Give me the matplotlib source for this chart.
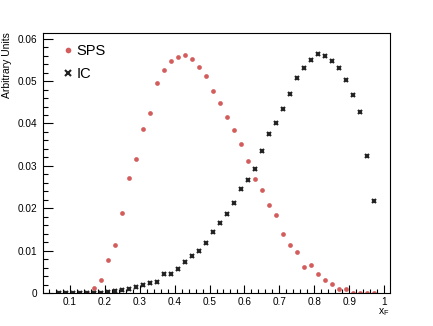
import numpy as np
from matplotlib import pyplot as plt
from matplotlib.ticker import MultipleLocator, FuncFormatter

plt.rcParams['font.family'] = ['Liberation Sans', 'DejaVu Sans']

# bin centres (x_F) and normalised yields
x_sps = [0.15, 0.17, 0.19, 0.21, 0.23, 0.25, 0.27, 0.29, 0.31, 0.33, 0.35, 0.37, 0.39, 0.41,
         0.43, 0.45, 0.47, 0.49, 0.51, 0.53, 0.55, 0.57, 0.59, 0.61, 0.63, 0.65, 0.67, 0.69,
         0.71, 0.73, 0.75, 0.77, 0.79, 0.81, 0.83, 0.85, 0.87, 0.89, 0.91, 0.93, 0.95, 0.97]
y_sps = [0.0001, 0.0012, 0.0031, 0.0078, 0.0114, 0.0190, 0.0272, 0.0316, 0.0387, 0.0425,
         0.0496, 0.0525, 0.0548, 0.0557, 0.0561, 0.0551, 0.0534, 0.0511, 0.0476, 0.0448,
         0.0416, 0.0384, 0.0351, 0.0311, 0.0269, 0.0243, 0.0209, 0.0185, 0.0140, 0.0114,
         0.0097, 0.0063, 0.0067, 0.0045, 0.0032, 0.0021, 0.0011, 0.0010, 0.0002, 0.0002,
         0.0001, 0.0001]

x_ic = [0.07, 0.09, 0.11, 0.13, 0.15, 0.17, 0.19, 0.21, 0.23, 0.25, 0.27, 0.29, 0.31, 0.33,
        0.35, 0.37, 0.39, 0.41, 0.43, 0.45, 0.47, 0.49, 0.51, 0.53, 0.55, 0.57, 0.59, 0.61,
        0.63, 0.65, 0.67, 0.69, 0.71, 0.73, 0.75, 0.77, 0.79, 0.81, 0.83, 0.85, 0.87, 0.89,
        0.91, 0.93, 0.95, 0.97]
y_ic = [0.0001, 0.0001, 0.0001, 0.0001, 0.0001, 0.0002, 0.0002, 0.0003, 0.0005, 0.0008,
        0.0011, 0.0014, 0.0020, 0.0024, 0.0028, 0.0045, 0.0045, 0.0057, 0.0073, 0.0088,
        0.0099, 0.0118, 0.0145, 0.0166, 0.0187, 0.0212, 0.0245, 0.0267, 0.0294, 0.0336,
        0.0375, 0.0401, 0.0433, 0.0470, 0.0506, 0.0530, 0.0550, 0.0563, 0.0558, 0.0548,
        0.0530, 0.0503, 0.0467, 0.0426, 0.0324, 0.0217]

fig = plt.figure(figsize=(4.33, 3.26), dpi=100)
ax = fig.add_axes([0.1, 0.1, 0.8, 0.8])

ax.plot(x_sps, y_sps, 'o', color='#d35c5c', markersize=3.4, markeredgewidth=0, label='SPS')
ax.plot(x_ic, y_ic, 'x', color='#222222', markersize=3.3, markeredgewidth=1.5, label='IC')

ax.set_xlim(0.025, 1.015)
ax.set_ylim(0, 0.0614)

# root-ish axes: ticks inside, only left and bottom
ax.xaxis.set_major_locator(MultipleLocator(0.1))
ax.xaxis.set_minor_locator(MultipleLocator(0.02))
ax.yaxis.set_major_locator(MultipleLocator(0.01))
ax.yaxis.set_minor_locator(MultipleLocator(0.002))
fmt = FuncFormatter(lambda v, p: '%g' % round(v, 4))
ax.xaxis.set_major_formatter(fmt)
ax.yaxis.set_major_formatter(fmt)
ax.tick_params(axis='x', which='major', direction='in', length=5.6, width=0.8, labelsize=7.2, pad=2.5)
ax.tick_params(axis='x', which='minor', direction='in', length=2.8, width=0.8)
ax.tick_params(axis='y', which='major', direction='in', length=7.5, width=0.8, labelsize=7.2, pad=4.5)
ax.tick_params(axis='y', which='minor', direction='in', length=3.75, width=0.8)
for s in ax.spines.values():
    s.set_linewidth(0.8)

ax.set_ylabel('Arbitrary Units', fontsize=7.5, loc='top')
ax.yaxis.set_label_coords(-0.091, 1.0)
ax.set_xlabel('x$_\\mathregular{F}$', fontsize=7.5, loc='right')
ax.xaxis.set_label_coords(1.0, -0.05)
ax.xaxis.label.set_va('top')

ax.legend(loc='upper left', frameon=False, fontsize=10.5, handletextpad=0.1,
          handlelength=1.0, labelspacing=0.6, borderaxespad=0.3, markerscale=1.2,
          bbox_to_anchor=(0.02, 0.995))

fig.savefig('out.png', dpi=100)
